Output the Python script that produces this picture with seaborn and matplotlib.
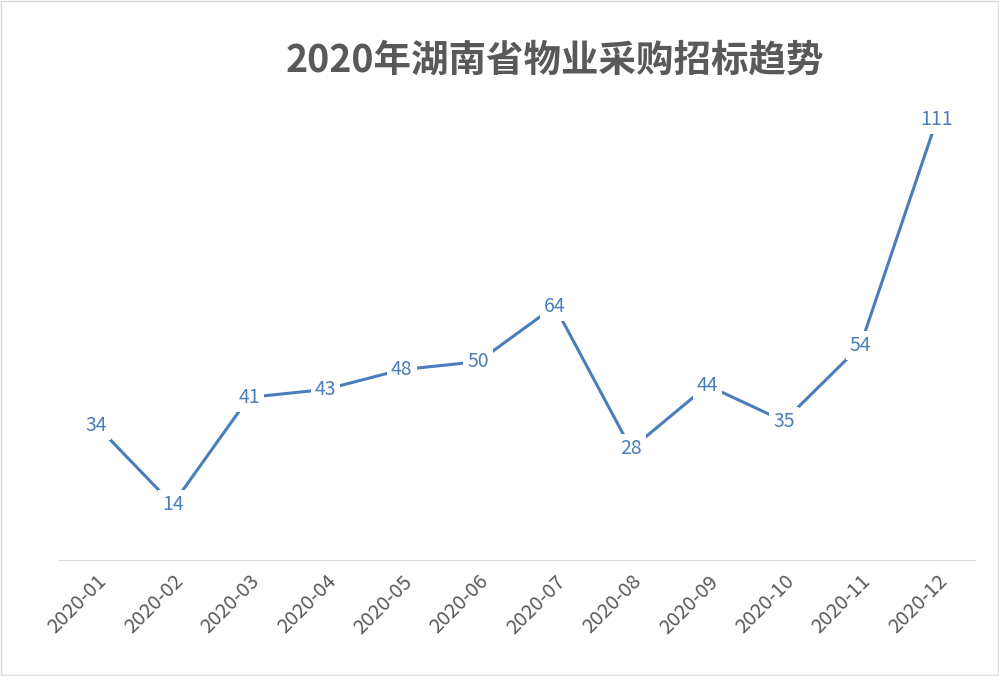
import matplotlib
matplotlib.use("Agg")
import matplotlib.pyplot as plt
import seaborn as sns
import pandas as pd

months = ["2020-01", "2020-02", "2020-03", "2020-04", "2020-05", "2020-06",
          "2020-07", "2020-08", "2020-09", "2020-10", "2020-11", "2020-12"]
counts = [34, 14, 41, 43, 48, 50, 64, 28, 44, 35, 54, 111]

sns.set_style("white")
plt.rcParams['font.family'] = ['Noto Sans CJK SC', 'DejaVu Sans']

df = pd.DataFrame({"month": months, "count": counts})
line_color = "#4a7ebb"

fig = plt.figure(figsize=(9.99, 6.76), dpi=100)
ax = fig.add_axes([58 / 999, 1 - 560 / 676, 917 / 999, 476 / 676])
sns.lineplot(data=df, x="month", y="count", ax=ax, color=line_color,
             linewidth=2.2, sort=False)

for i, v in enumerate(counts):
    ax.text(i, v, str(v), ha="center", va="center", fontsize=14, color=line_color,
            zorder=5, bbox=dict(facecolor="white", edgecolor="none", pad=3))

ax.set_xlim(-0.5, len(months) - 0.5)
ax.set_ylim(0, 120)
ax.set_xlabel("")
ax.set_ylabel("")
ax.set_yticks([])
ax.set_xticks(range(len(months)))
ax.set_xticklabels(months, rotation=45, ha="right", rotation_mode="anchor",
                   fontsize=14.5, color="#595959")
ax.tick_params(axis="x", length=0, pad=8)
for s in ["top", "left", "right"]:
    ax.spines[s].set_visible(False)
ax.spines["bottom"].set_color("#d9d9d9")

fig.text(0.555, 1 - 60 / 676, "2020年湖南省物业采购招标趋势", ha="center", va="center",
         fontsize=27, fontweight="bold", color="#595959")

fig.patches.append(plt.Rectangle((0.001, 0.001), 0.998, 0.998, transform=fig.transFigure,
                                 fill=False, edgecolor="#d9d9d9", linewidth=1))

fig.savefig("out.png", dpi=100)
